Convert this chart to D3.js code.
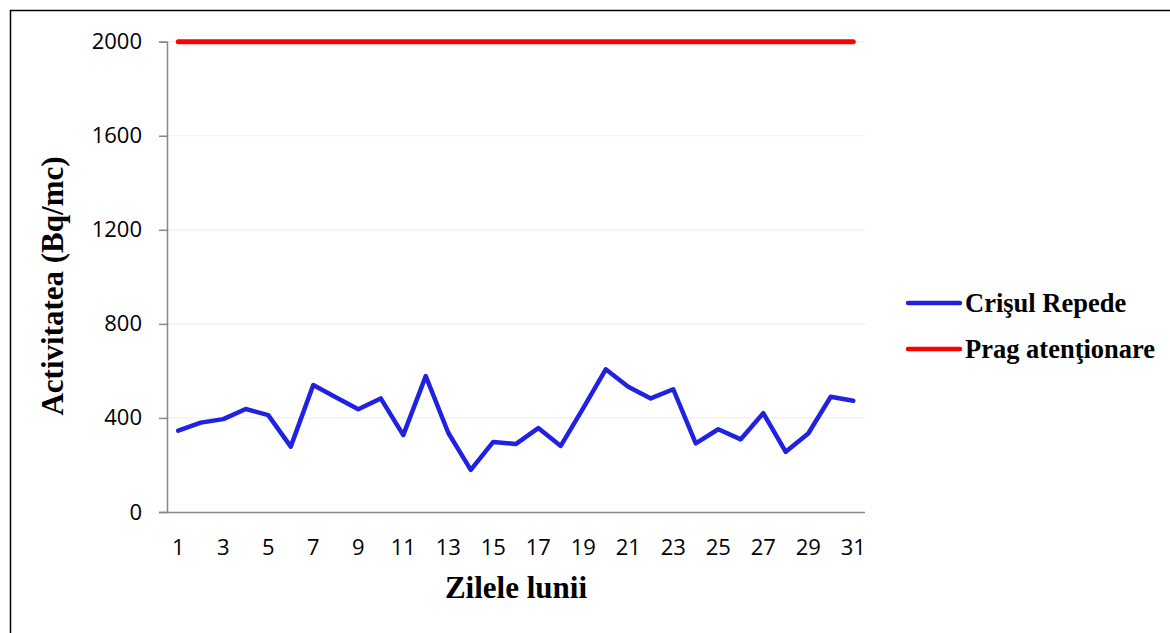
<!DOCTYPE html>
<html><head><meta charset="utf-8">
<script src="https://cdn.jsdelivr.net/npm/d3@7"></script>
<style>body{margin:0;background:#fff}</style>
</head><body>
<svg id="c" width="1170" height="633"></svg>
<script>
const days = d3.range(1, 32);
const crisulRepede = [346,380,395,438,412,278,540,488,437,483,327,578,337,179,298,289,357,281,442,607,533,483,522,292,352,309,420,256,334,490,473];
const pragAtentionare = days.map(() => 2000);
const yTicks = [0,400,800,1200,1600,2000];
const xTickLabels = days.filter(d => d % 2 === 1);
const seriesNames = ["Crişul Repede","Prag atenţionare"];
const seriesColors = ["#2121e0","#ff0000"];

const svg = d3.select("#c");
svg.append("rect").attr("x",10.5).attr("y",10.5).attr("width",1300).attr("height",800)
  .attr("fill","none").attr("stroke","#000").attr("stroke-width",1.5);

const x0 = 167, x1 = 864.5, yTop = 41.7, yBot = 512;
const xb = d3.scaleBand().domain(days).range([x0, x1]);
const x = d => xb(d) + xb.bandwidth()/2;
const y = d3.scaleLinear().domain([0,2000]).range([yBot, yTop]);

// gridlines
svg.append("g").selectAll("line").data(yTicks.filter(t=>t>0)).join("line")
  .attr("x1",x0).attr("x2",x1+1).attr("y1",d=>y(d)).attr("y2",d=>y(d))
  .attr("stroke","#efefef").attr("stroke-width",1.2);

// y axis
const yAxis = svg.append("g").attr("transform",`translate(${x0},0)`)
  .call(d3.axisLeft(y).tickValues(yTicks).tickSize(8).tickPadding(17).tickFormat(d3.format("d")));
yAxis.attr("font-size",null);
yAxis.select(".domain").attr("stroke","#888").attr("stroke-width",1.5);
yAxis.selectAll(".tick line").attr("stroke","#888").attr("stroke-width",1.5);
yAxis.selectAll("text").style("font-family","Open Sans, sans-serif").style("font-size","22px").attr("fill","#000");

// x axis
const xAxis = svg.append("g").attr("transform",`translate(0,${yBot})`)
  .call(d3.axisBottom(xb).tickValues(xTickLabels).tickSize(0).tickPadding(27));
xAxis.attr("font-size",null);
xAxis.select(".domain").attr("stroke","#888").attr("stroke-width",1.5);
xAxis.selectAll("text").style("font-family","Open Sans, sans-serif").style("font-size","22px").attr("fill","#000");

const line = d3.line().x((d,i)=>x(days[i])).y(d=>y(d));
svg.append("path").datum(pragAtentionare).attr("d",line).attr("fill","none")
  .attr("stroke",seriesColors[1]).attr("stroke-width",5).attr("stroke-linecap","round");
svg.append("path").datum(crisulRepede).attr("d",line).attr("fill","none")
  .attr("stroke",seriesColors[0]).attr("stroke-width",4.5).attr("stroke-linecap","round").attr("stroke-linejoin","round");

// axis titles
svg.append("text").attr("transform","translate(63,286) rotate(-90)").attr("text-anchor","middle")
  .style("font-family","Liberation Serif, serif").attr("font-weight","bold").style("font-size","31px").text("Activitatea (Bq/mc)");
svg.append("text").attr("x",516).attr("y",598).attr("text-anchor","middle")
  .style("font-family","Liberation Serif, serif").attr("font-weight","bold").style("font-size","31px").text("Zilele lunii");

// legend
const lg = svg.append("g").selectAll("g").data(seriesNames).join("g")
  .attr("transform",(d,i)=>`translate(908,${303 + i*46})`);
lg.append("line").attr("x1",0).attr("x2",52).attr("stroke",(d,i)=>seriesColors[i])
  .attr("stroke-width",4.5).attr("stroke-linecap","round");
lg.append("text").attr("x",57).attr("y",9).style("font-family","Liberation Serif, serif")
  .attr("font-weight","bold").style("font-size","26.5px").text(d=>d);
</script>
</body></html>
